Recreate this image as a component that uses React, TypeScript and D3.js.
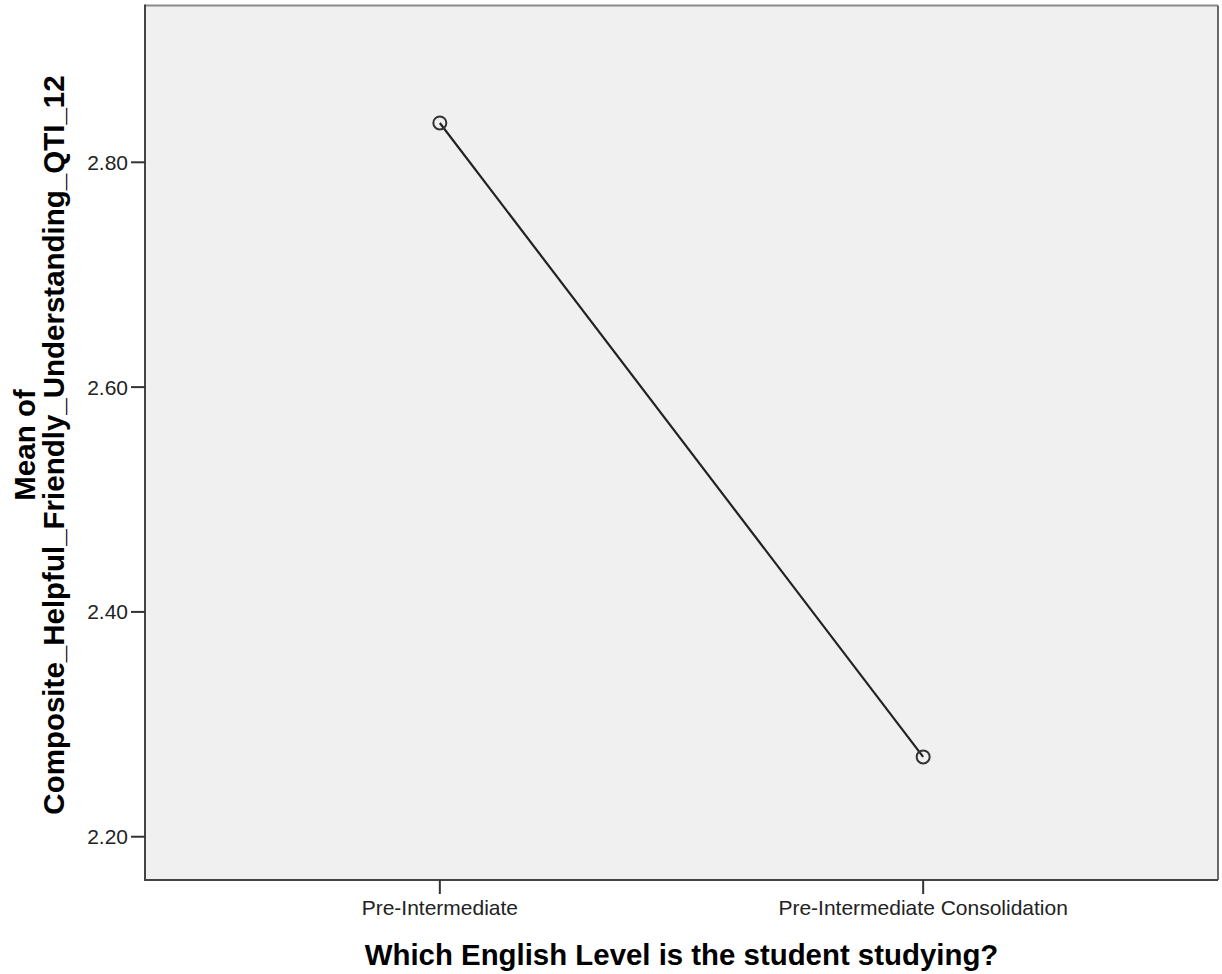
import React from "react";
import * as d3 from "d3";

const categories = ["Pre-Intermediate", "Pre-Intermediate Consolidation"];
const means = [2.835, 2.271];
const yTicks = [2.2, 2.4, 2.6, 2.8];

const W = 1222;
const H = 974;
const L = 145, R = 1218, T = 5.5, B = 880;

export default function App() {
  const x = d3.scalePoint<string>().domain(categories).range([L, R]).padding(0.61);
  const y = d3.scaleLinear().domain([2.1615, 2.9395]).range([B, T]);
  const line = d3
    .line<number>()
    .x((_, i) => x(categories[i]) as number)
    .y((d) => y(d));
  const font = "'Liberation Sans', Arial, sans-serif";
  return (
    <svg
      width={W}
      height={H}
      style={{ position: "absolute", left: 0, top: 0, background: "#fff" }}
      fontFamily={font}
    >
      <rect x={L} y={T} width={R - L} height={B - T} fill="#f0f0f0" />
      <line x1={L} y1={T} x2={R} y2={T} stroke="#8a8a8a" strokeWidth={2} />
      <line x1={R} y1={T} x2={R} y2={B} stroke="#6a6a6a" strokeWidth={2} />
      <line x1={L} y1={T - 1} x2={L} y2={B + 1} stroke="#444" strokeWidth={2} />
      <line x1={L - 1} y1={B} x2={R} y2={B} stroke="#444" strokeWidth={2} />
      {yTicks.map((t) => (
        <g key={t}>
          <line x1={L - 14} x2={L} y1={y(t)} y2={y(t)} stroke="#333" strokeWidth={2} />
          <text x={L - 17} y={y(t)} dy="0.36em" textAnchor="end" fontSize={21} fill="#222">
            {t.toFixed(2)}
          </text>
        </g>
      ))}
      {categories.map((c) => (
        <g key={c}>
          <line x1={x(c)} x2={x(c)} y1={B} y2={B + 14} stroke="#333" strokeWidth={2} />
          <text x={x(c)} y={915} textAnchor="middle" fontSize={21} fill="#222">
            {c}
          </text>
        </g>
      ))}
      <path d={line(means) || ""} fill="none" stroke="#222" strokeWidth={2.2} />
      {means.map((m, i) => (
        <circle
          key={i}
          cx={x(categories[i])}
          cy={y(m)}
          r={6.5}
          fill="none"
          stroke="#333"
          strokeWidth={2}
        />
      ))}
      <text
        x={(L + R) / 2}
        y={965}
        textAnchor="middle"
        fontSize={29.4}
        fontWeight="bold"
        fill="#000"
      >
        Which English Level is the student studying?
      </text>
      <g transform={`translate(0, 445) rotate(-90)`}>
        <text x={0} y={35} textAnchor="middle" fontSize={29.5} fontWeight="bold" fill="#000">
          Mean of
        </text>
        <text x={0} y={64} textAnchor="middle" fontSize={29.5} fontWeight="bold" fill="#000">
          Composite_Helpful_Friendly_Understanding_QTI_12
        </text>
      </g>
    </svg>
  );
}
